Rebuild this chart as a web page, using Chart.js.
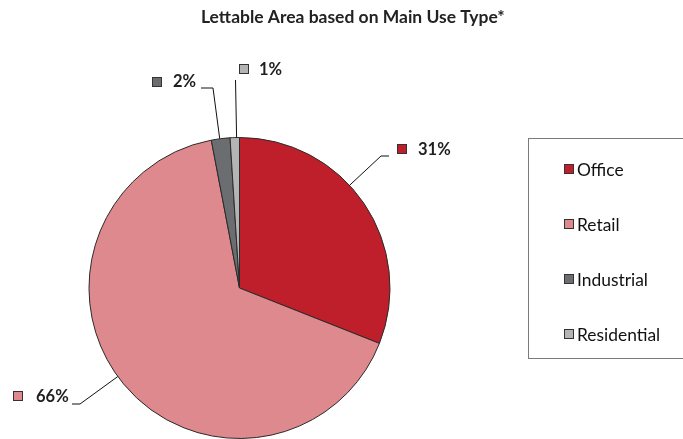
<!DOCTYPE html>
<html><head><meta charset="utf-8">
<script src="https://cdn.jsdelivr.net/npm/chart.js@4.4.1/dist/chart.umd.min.js"></script>
<style>html,body{margin:0;padding:0;background:#fff}canvas{display:block}</style>
</head><body>
<canvas id="c" width="683" height="439"></canvas>
<script>
const chartTitle = 'Lettable Area based on Main Use Type*';
const categories = ['Office', 'Retail', 'Industrial', 'Residential'];
const shares = [31, 66, 2, 1];
const valueLabels = ['31%', '66%', '2%', '1%'];
const colors = ['#BE1F2B', '#DE898D', '#6B6D70', '#B4B4B4'];

// label annotation placement (square x,y ; leader start ; leader elbow)
const labelPlacement = [
  {sq: [397, 144], tx: 418, ty: 150, start: [389, 156], elbow: [381, 156]},
  {sq: [13, 391], tx: 36, ty: 397, start: [72, 404], elbow: [80, 404]},
  {sq: [152, 77], tx: 173, ty: 82, start: [201, 88], elbow: [213, 88]},
  {sq: [239, 64], tx: 259, ty: 70, start: [235.5, 80], elbow: [235.5, 80]}
];

const decor = {
  id: 'decor',
  beforeDraw(chart) {
    const ctx = chart.ctx;
    ctx.save();
    ctx.fillStyle = '#fff';
    ctx.fillRect(0, 0, chart.width, chart.height);
    ctx.restore();
  },
  afterDraw(chart) {
    const ctx = chart.ctx;
    const meta = chart.getDatasetMeta(0);
    const a0 = meta.data[0];
    const cx = a0.x, cy = a0.y, r = a0.outerRadius;
    ctx.save();
    // title
    let fs = 15;
    ctx.font = 'bold ' + fs + 'px Lato';
    const w = ctx.measureText(chartTitle).width;
    fs = fs * 304 / w;
    ctx.font = 'bold ' + fs.toFixed(2) + 'px Lato';
    ctx.fillStyle = '#222';
    ctx.textAlign = 'left';
    ctx.textBaseline = 'middle';
    ctx.fillText(chartTitle, 201, 17);

    // data labels
    labelPlacement.forEach((p, i) => {
      const ex = p.elbow[0], ey = p.elbow[1];
      const dx = ex - cx, dy = ey - cy, d = Math.hypot(dx, dy);
      const px = cx + dx / d * r, py = cy + dy / d * r;
      ctx.strokeStyle = '#111';
      ctx.lineWidth = 1;
      ctx.beginPath();
      ctx.moveTo(p.start[0], p.start[1]);
      ctx.lineTo(ex, ey);
      ctx.lineTo(px, py);
      ctx.stroke();
      ctx.fillStyle = colors[i];
      ctx.fillRect(p.sq[0], p.sq[1], 10, 10);
      ctx.strokeStyle = '#333';
      ctx.strokeRect(p.sq[0] + 0.5, p.sq[1] + 0.5, 9, 9);
      ctx.fillStyle = '#1e1e1e';
      ctx.font = 'bold 16.5px Lato';
      ctx.textBaseline = 'middle';
      ctx.fillText(valueLabels[i], p.tx, p.ty);
    });

    // legend
    ctx.strokeStyle = '#7a7a7a';
    ctx.lineWidth = 1;
    ctx.strokeRect(528.5, 138.5, 160, 220);
    categories.forEach((c, i) => {
      const y = 169 + i * 55;
      ctx.fillStyle = colors[i];
      ctx.fillRect(564, y - 5, 10, 10);
      ctx.strokeStyle = '#333';
      ctx.strokeRect(564.5, y - 4.5, 9, 9);
      ctx.fillStyle = '#111';
      ctx.font = '17.4px Lato';
      ctx.textBaseline = 'middle';
      ctx.fillText(c, 577, y + 1);
    });
    ctx.restore();
  }
};

new Chart(document.getElementById('c'), {
  type: 'pie',
  data: {
    labels: categories,
    datasets: [{
      data: shares,
      backgroundColor: colors,
      borderColor: '#2b2b2b',
      borderWidth: 1
    }]
  },
  options: {
    responsive: false,
    animation: false,
    layout: {padding: {left: 88, right: 292, top: 137, bottom: 0}},
    plugins: {legend: {display: false}, title: {display: false}, tooltip: {enabled: false}}
  },
  plugins: [decor]
});
</script>
</body></html>
